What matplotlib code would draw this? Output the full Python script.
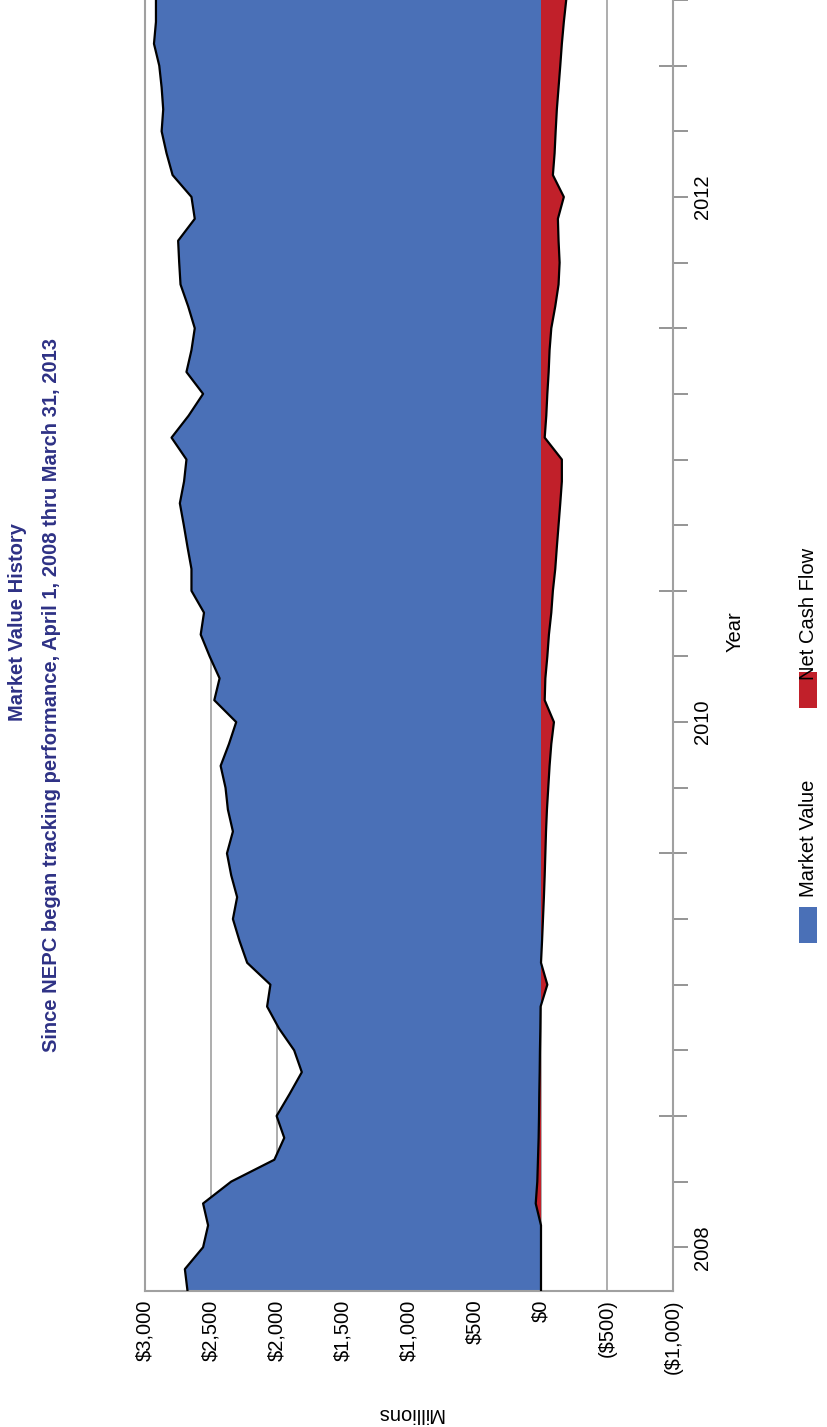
import numpy as np
import pandas as pd
import matplotlib
matplotlib.use("Agg")
import matplotlib.pyplot as plt
from matplotlib.patches import Rectangle
from matplotlib.transforms import blended_transform_factory

plt.rcParams['font.family'] = ['Liberation Sans', 'DejaVu Sans']

# month-end dates, April 2008 .. March 2013
months = pd.date_range('2008-04-30', periods=60, freq='ME')

# market value, $ millions
market_value = [2678, 2698, 2560, 2522, 2560, 2347, 2020, 1945, 2003, 1905,
                1812, 1870, 1985, 2075, 2050, 2226, 2284, 2334, 2302, 2347,
                2379, 2334, 2372, 2390, 2427, 2364, 2309, 2475, 2435, 2510,
                2578, 2553, 2648, 2648, 2678, 2706, 2736, 2704, 2686, 2799,
                2670, 2560, 2686, 2648, 2623, 2673, 2731, 2741, 2749, 2623,
                2648, 2791, 2837, 2874, 2862, 2874, 2892, 2932, 2917, 2917]

# net cash flow, $ millions
net_cash_flow = [0, 0, 0, 0, 40, 28, 23, 18, 15, 13,
                 10, 8, 5, 3, -48, 0, -8, -15, -22, -28,
                 -33, -38, -45, -55, -65, -78, -98, -28, -33, -48,
                 -60, -78, -90, -108, -120, -133, -146, -158, -158, -28,
                 -40, -48, -58, -65, -78, -108, -133, -141, -133, -128,
                 -173, -90, -103, -111, -120, -133, -146, -158, -173, -191]

value_ticks = [3000, 2500, 2000, 1500, 1000, 500, 0, -500, -1000]
value_labels = ['$3,000', '$2,500', '$2,000', '$1,500', '$1,000', '$500',
                '$0', '($500)', '($1,000)']
year_labels = [2008, 2010, 2012]

blue = '#4A70B7'
red = '#C1202A'
navy = '#2E3185'
grey = '#A0A0A0'
fs = 14.5

t = np.asarray(months.year + months.month / 12.0)

fig = plt.figure(figsize=(8.27, 14.27), dpi=100)
W, H = 827, 1427
ax = fig.add_axes([145 / W, 136 / H, 528 / W, 1291 / H])

ax.fill_betweenx(t, 0, market_value, facecolor=blue, edgecolor='none', zorder=2)
ax.fill_betweenx(t, 0, net_cash_flow, facecolor=red, edgecolor='none', zorder=3)
ax.plot(market_value, t, color='black', lw=1.6, zorder=4)
ax.plot(net_cash_flow, t, color='black', lw=1.6, zorder=4)

ax.set_xticks(value_ticks)
ax.set_xticklabels(value_labels, rotation=90, fontsize=fs)
ax.tick_params(axis='x', length=0, pad=6)
ax.grid(axis='x', color=grey, lw=1.2, zorder=1)
ax.set_axisbelow(True)

ax.yaxis.tick_right()
ax.set_yticks(np.arange(2009, 2014))
ax.set_yticklabels([])
ax.set_yticks(np.arange(2008.5, 2013.3, 0.25), minor=True)
ax.tick_params(axis='y', which='major', direction='inout', length=20,
               width=1.3, color='#8C8C8C')
ax.tick_params(axis='y', which='minor', direction='out', length=11,
               width=1.3, color='#8C8C8C')

# limits last, so the tick locations do not widen them
ax.set_xlim(3000, -1000)
ax.set_ylim(t[0], t[-1])

for side in ['left', 'right', 'bottom']:
    ax.spines[side].set_color(grey)
    ax.spines[side].set_linewidth(1.5)
ax.spines['top'].set_visible(False)

trans = blended_transform_factory(ax.transAxes, ax.transData)
for yr in year_labels:
    ax.text(1.038, yr + 0.5, str(yr), transform=trans, rotation=90,
            ha='left', va='center', fontsize=fs)

fig.text(735 / W, 1 - 632 / H, 'Year', rotation=90, ha='center', va='center',
         fontsize=fs)
fig.text(410 / W, 1 - 1413 / H, 'Millions', rotation=180, ha='center',
         va='center', fontsize=fs)

fig.text(18 / W, 1 - 622 / H, 'Market Value History', rotation=90,
         ha='center', va='center', fontsize=14.5, fontweight='bold', color=navy)
fig.text(52 / W, 1 - 695 / H,
         'Since NEPC began tracking performance, April 1, 2008 thru March 31, 2013',
         rotation=90, ha='center', va='center', fontsize=14.5,
         fontweight='bold', color=navy)

# legend
fig.add_artist(Rectangle((799 / W, 1 - 943 / H), 18 / W, 36 / H,
                         transform=fig.transFigure, facecolor=blue,
                         edgecolor='none'))
fig.text(808 / W, 1 - 897 / H, 'Market Value', rotation=90, ha='center',
         va='bottom', fontsize=fs)
fig.add_artist(Rectangle((799 / W, 1 - 708 / H), 18 / W, 36 / H,
                         transform=fig.transFigure, facecolor=red,
                         edgecolor='none'))
fig.text(808 / W, 1 - 680 / H, 'Net Cash Flow', rotation=90, ha='center',
         va='bottom', fontsize=fs)

fig.savefig('out.png', dpi=100)
